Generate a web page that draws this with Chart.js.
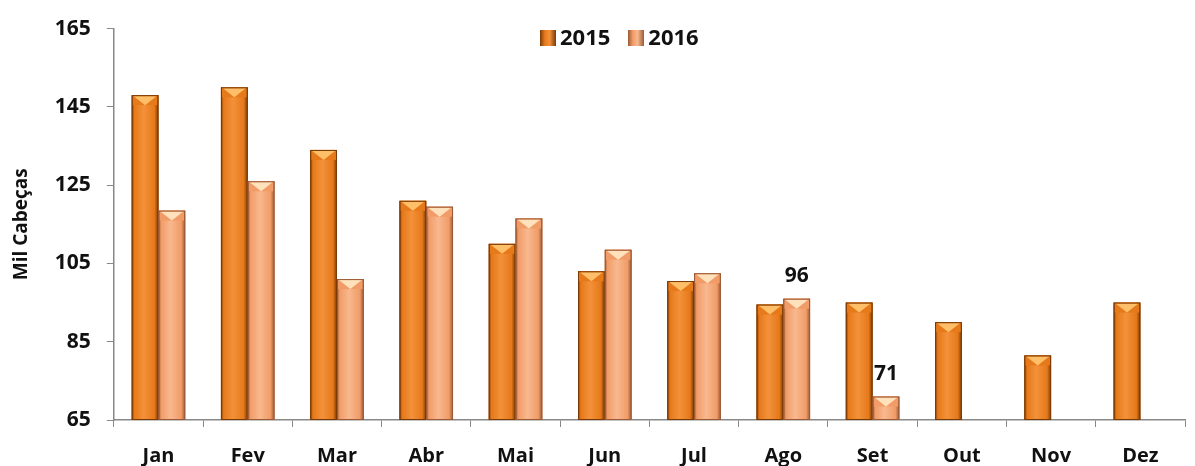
<!DOCTYPE html>
<html>
<head>
<meta charset="utf-8">
<script src="https://cdn.jsdelivr.net/npm/chart.js@4.4.0/dist/chart.umd.min.js"></script>
<style>
  body { margin: 0; background: #fff; }
  #wrap { position: relative; width: 1195px; height: 466px; }
  #legend { position: absolute; left: 540px; top: 21px; font: bold 22px "Open Sans", sans-serif; color: #111; }
  #legend span.sw { display: inline-block; width: 16px; height: 16px; margin-right: 4px; vertical-align: -1px; }
  #legend span.item { margin-right: 18px; }
</style>
</head>
<body>
<div id="wrap">
  <canvas id="mycanvas" width="1195" height="466"></canvas>
  <div id="legend"></div>
</div>
<script>
var months = ["Jan", "Fev", "Mar", "Abr", "Mai", "Jun", "Jul", "Ago", "Set", "Out", "Nov", "Dez"];
var values2015 = [148, 150, 134, 121, 110, 103, 100.5, 94.5, 95, 90, 81.5, 95];
var values2016 = [118.5, 126, 101, 119.5, 116.5, 108.5, 102.5, 96, 71, null, null, null];
var labelIndex2016 = [7, 8]; // only these got data labels
var yTicks = [65, 85, 105, 125, 145, 165];

var colors = {
    "2015": { main: "#E6791A", light: "#F3913A", dark: "#7A3A06", cap: "#FFBE68" },
    "2016": { main: "#F19C68", light: "#F8B88E", dark: "#9A5A36", cap: "#FFE2BC" }
};

// legend (html)
var legendHtml = "";
["2015", "2016"].forEach(function(k) {
    var c = colors[k];
    legendHtml += '<span class="item"><span class="sw" style="background:linear-gradient(90deg,' + c.dark + ',' + c.main + ' 30%,' + c.light + ' 60%,' + c.dark + ')"></span>' + k + '</span>';
});
document.getElementById("legend").innerHTML = legendHtml;

var barLook = {
    id: "barLook",
    afterDatasetsDraw: function(chart) {
        var ctx = chart.ctx;
        var bottom = chart.chartArea.bottom;
        chart.data.datasets.forEach(function(ds, di) {
            var c = colors[ds.label];
            chart.getDatasetMeta(di).data.forEach(function(bar, i) {
                if (ds.data[i] == null) return;
                var p = bar.getProps(["x", "y", "base", "width"], true);
                var l = p.x - p.width / 2, r = p.x + p.width / 2, t = p.y, b = Math.min(p.base, bottom);
                var g = ctx.createLinearGradient(l, 0, r, 0);
                g.addColorStop(0, c.dark);
                g.addColorStop(0.1, c.main);
                g.addColorStop(0.45, c.light);
                g.addColorStop(0.85, c.main);
                g.addColorStop(1, c.dark);
                ctx.save();
                ctx.fillStyle = g;
                ctx.fillRect(l, t, r - l, b - t);
                // top bevel
                var capH = 10;
                ctx.fillStyle = c.main;
                ctx.fillRect(l + 1, t, r - l - 2, capH);
                ctx.fillStyle = c.cap;
                ctx.beginPath();
                ctx.moveTo(l + 2, t + 1);
                ctx.lineTo(r - 2, t + 1);
                ctx.lineTo(p.x, t + capH);
                ctx.closePath();
                ctx.fill();
                ctx.strokeStyle = c.dark;
                ctx.lineWidth = 1;
                ctx.strokeRect(l + 0.5, t + 0.5, r - l - 1, b - t - 1);
                ctx.restore();
            });
        });
        // data labels
        var meta = chart.getDatasetMeta(1);
        ctx.save();
        ctx.font = "bold 21px 'Open Sans', sans-serif";
        ctx.fillStyle = "#111";
        ctx.textAlign = "center";
        labelIndex2016.forEach(function(i) {
            var bar = meta.data[i];
            ctx.fillText(String(values2016[i]), bar.x, bar.y - 17);
        });
        ctx.restore();
    }
};

var chartdata = {
    labels: months,
    datasets: [{
        label: "2015",
        backgroundColor: colors["2015"].main,
        data: values2015
    }, {
        label: "2016",
        backgroundColor: colors["2016"].main,
        data: values2016
    }]
};

var tickFont = { family: "Open Sans", size: 20, weight: "bold" };

var ctx = document.getElementById("mycanvas");
var LineGraph = new Chart(ctx, {
    type: "bar",
    data: chartdata,
    plugins: [barLook],
    options: {
        responsive: false,
        animation: false,
        layout: { padding: { left: 6, right: 10, top: 24, bottom: 0 } },
        datasets: { bar: { categoryPercentage: 0.6, barPercentage: 1 } },
        plugins: {
            legend: { display: false },
            tooltip: { enabled: false }
        },
        scales: {
            x: {
                afterFit: function(scale) { scale.height = 46; },
                grid: { drawOnChartArea: false, color: "#888", tickLength: 7, offset: true },
                border: { color: "#888", width: 1.5 },
                ticks: { color: "#111", font: tickFont, padding: 17 }
            },
            y: {
                min: 65,
                max: 165,
                afterBuildTicks: function(axis) {
                    axis.ticks = yTicks.map(function(v) { return { value: v }; });
                },
                grid: { drawOnChartArea: false, color: "#888", tickLength: 7 },
                border: { color: "#888", width: 1.5 },
                ticks: { color: "#111", font: { family: "Open Sans", size: 21, weight: "bold" }, padding: 16 },
                title: { display: true, text: "Mil Cabeças", color: "#111", font: { family: "Open Sans", size: 19, weight: "bold" }, padding: { bottom: 6 } }
            }
        }
    }
});
</script>
</body>
</html>
